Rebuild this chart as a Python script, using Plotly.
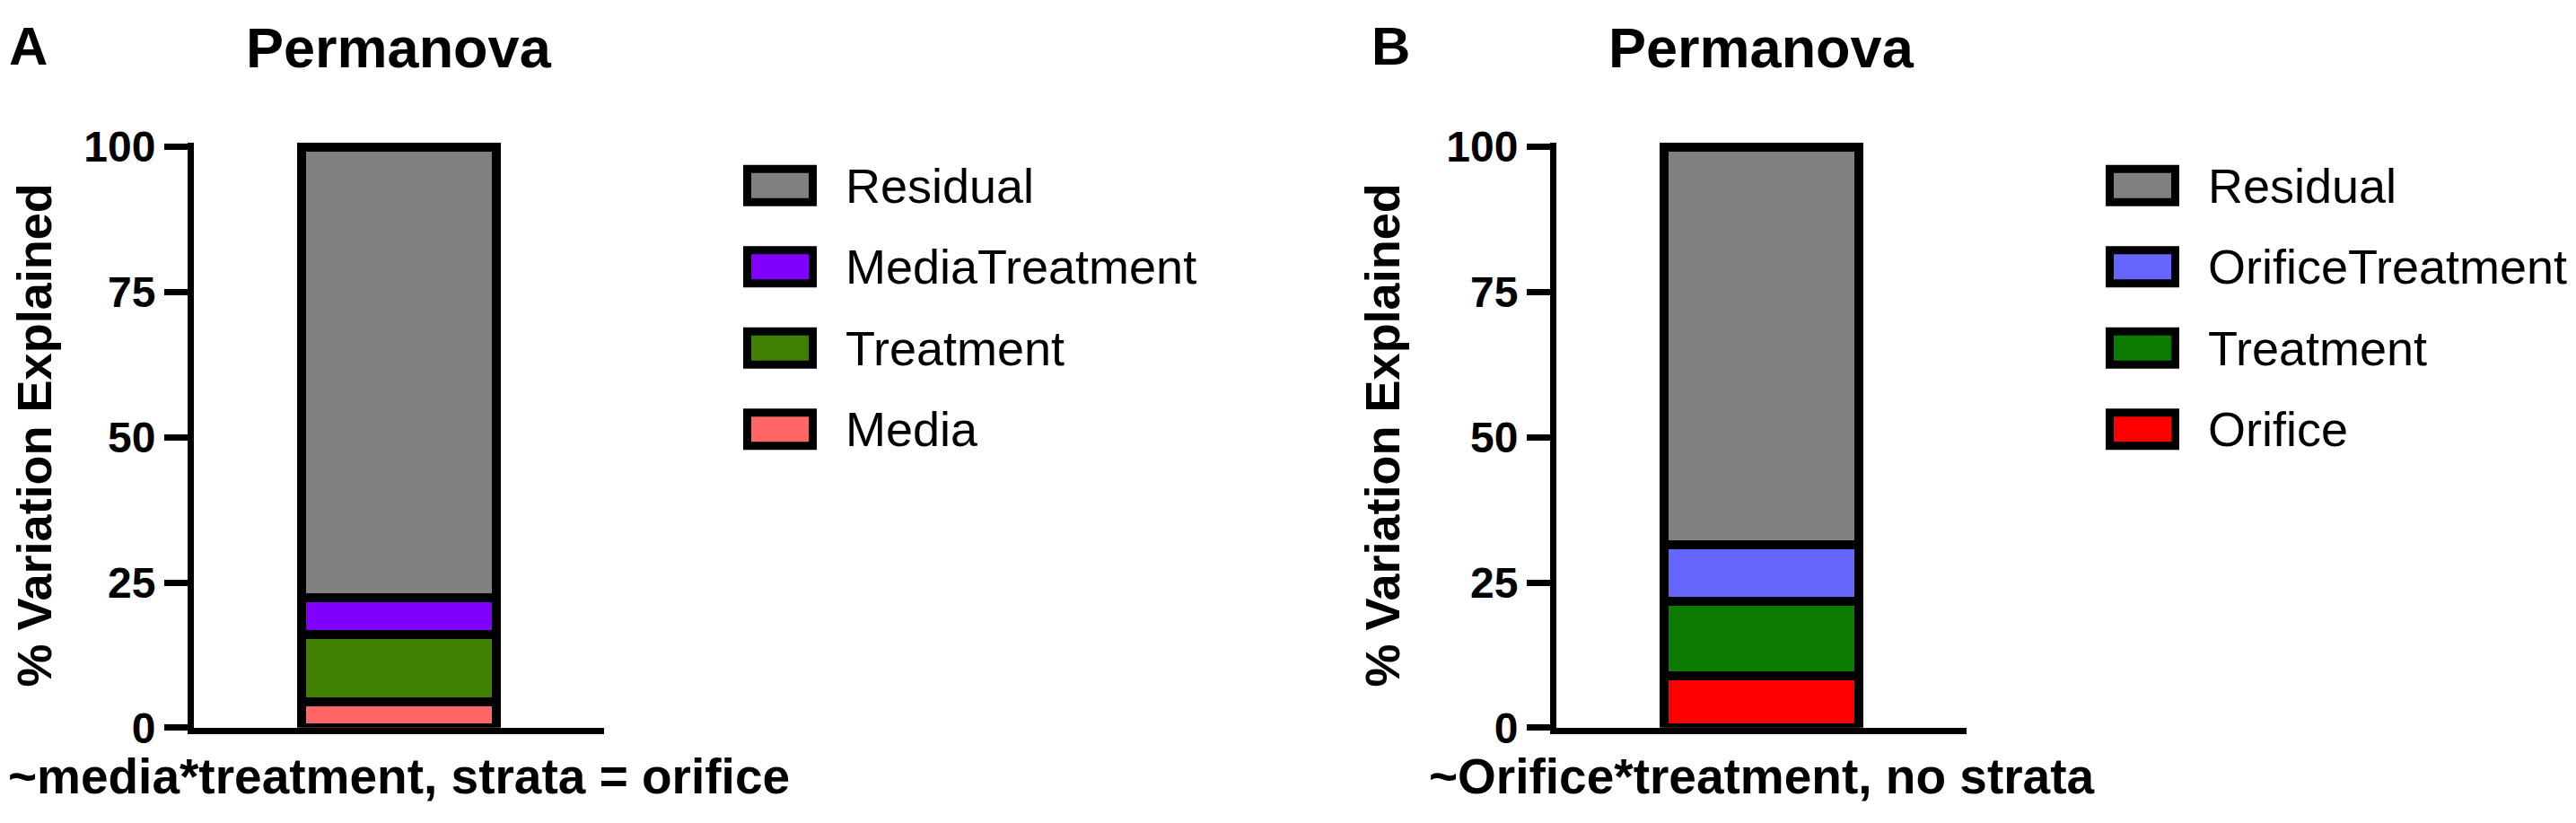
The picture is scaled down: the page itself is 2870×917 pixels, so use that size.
import plotly.graph_objects as go
from plotly.subplots import make_subplots

# Permanova results, % variation explained (bottom to top of the stack)
terms_a = ['Media', 'Treatment', 'MediaTreatment', 'Residual']
values_a = [4.5, 11.5, 6.4, 77.6]
colors_a = ['#FF6666', '#408000', '#8000FF', '#808080']

terms_b = ['Orifice', 'Treatment', 'OrificeTreatment', 'Residual']
values_b = [8.9, 12.9, 9.7, 68.5]
colors_b = ['#FF0000', '#0B7C00', '#6666FF', '#808080']

panel_letters = ['A', 'B']
panel_title = 'Permanova'
x_titles = ['~media*treatment, strata = orifice', '~Orifice*treatment, no strata']
y_title = '% Variation Explained'
y_ticks = [0, 25, 50, 75, 100]

W, H = 2870, 917
FONT = 'Liberation Sans, Arial, sans-serif'
PANEL_OFFSET = 1518  # px between the two panels


def px_x(p):
    return p / W


def px_y(p):
    return 1 - p / H


fig = make_subplots(rows=1, cols=2)

panels = [(terms_a, values_a, colors_a), (terms_b, values_b, colors_b)]
for col, (terms, values, colors) in enumerate(panels, start=1):
    for term, val, color in zip(terms, values, colors):
        fig.add_trace(
            go.Bar(
                x=[0], y=[val], name=term, width=0.474,
                marker=dict(color=color, line=dict(color='black', width=10)),
                showlegend=False,
                hovertemplate=term + ': %{y:.1f}%<extra></extra>'
            ),
            row=1, col=col
        )

shapes = []
annotations = []
for i, (terms, values, colors) in enumerate(panels):
    off = i * PANEL_OFFSET

    # panel letter and title
    annotations.append(dict(
        text='<b>' + panel_letters[i] + '</b>', x=px_x(off), y=1, yshift=13,
        xref='paper', yref='paper', xanchor='left', yanchor='top', showarrow=False,
        font=dict(family=FONT, size=60, color='black')
    ))
    annotations.append(dict(
        text='<b>' + panel_title + '</b>', x=px_x(off + 436), y=1, yshift=13,
        xref='paper', yref='paper', xanchor='center', yanchor='top', showarrow=False,
        font=dict(family=FONT, size=63, color='black')
    ))

    # legend, top row is the last stacked term
    for row, (term, color) in enumerate(zip(terms[::-1], colors[::-1])):
        yc = 187.5 + row * 95.5
        shapes.append(dict(
            type='rect', xref='paper', yref='paper',
            x0=px_x(off + 824.5), x1=px_x(off + 897.5),
            y0=px_y(yc - 19.5), y1=px_y(yc + 19.5),
            fillcolor=color, line=dict(color='black', width=9)
        ))
        annotations.append(dict(
            text=term, x=px_x(off + 932), y=px_y(yc),
            xref='paper', yref='paper', xanchor='left', yanchor='middle', showarrow=False,
            font=dict(family=FONT, size=54, color='black')
        ))

y_dom = [px_y(825), px_y(825 - 100.7 * 6.83)]
x_doms = [[px_x(208), px_x(665)], [px_x(208 + PANEL_OFFSET), px_x(665 + PANEL_OFFSET)]]

for col in (1, 2):
    fig.update_xaxes(
        domain=x_doms[col - 1], range=[-0.5, 0.5],
        showticklabels=False, ticks='', showgrid=False, zeroline=False,
        showline=True, linecolor='black', linewidth=7,
        title=dict(text='<b>' + x_titles[col - 1] + '</b>', standoff=31,
                   font=dict(family=FONT, size=55, color='black')),
        row=1, col=col
    )
    fig.update_yaxes(
        domain=y_dom, range=[0, 100.7],
        tickvals=y_ticks, ticks='outside', ticklen=26, tickwidth=7, tickcolor='black',
        showgrid=False, zeroline=False,
        showline=True, linecolor='black', linewidth=7,
        tickfont=dict(family=FONT, size=48, color='black', weight='bold'),
        title=dict(text='<b>' + y_title + '</b>', standoff=37,
                   font=dict(family=FONT, size=54, color='black')),
        row=1, col=col
    )

fig.update_layout(
    barmode='stack',
    width=W, height=H,
    margin=dict(l=0, r=0, t=0, b=0),
    plot_bgcolor='white', paper_bgcolor='white',
    shapes=shapes, annotations=annotations,
    font=dict(family=FONT, color='black')
)

fig.write_html('out.html')
